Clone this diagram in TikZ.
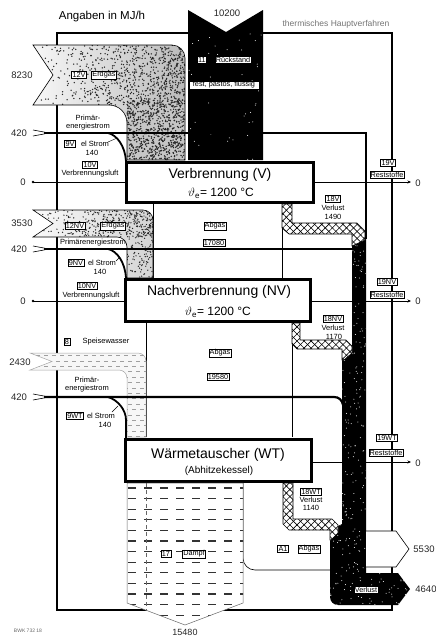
\documentclass[tikz,border=0pt]{standalone}
\usepackage{fontspec}
\setmainfont{Liberation Sans}
\usetikzlibrary{patterns.meta,arrows.meta}
\newcommand\myspeck[8]{%
  \foreach \i in {1,...,#5}{%
    \pgfmathsetmacro\xx{#1+#3*#8(rnd)}%
    \pgfmathsetmacro\yy{#2+#4*rnd}%
    \fill[#7] (\xx,\yy) circle (#6);}}
\begin{document}
\begin{tikzpicture}[x=1pt,y=-1pt,
  lbl/.style={draw,line width=0.4pt,fill=white,inner sep=0.9pt,font=\fontsize{7.3}{8}\selectfont},
  txt/.style={inner sep=0pt,font=\fontsize{7.5}{8.5}\selectfont},
  num/.style={inner sep=0pt,font=\fontsize{9.5}{10}\selectfont,text=black!85},
  proc/.style={draw,line width=3pt,fill=white,inner sep=0pt},
  big/.style={inner sep=0pt,font=\fontsize{14}{16}\selectfont},
  mid/.style={inner sep=0pt,font=\fontsize{12}{14}\selectfont},
  elec/.style={line width=2.2pt},
  thinl/.style={line width=0.6pt},
  hatchband/.style={draw,line width=0.6pt,fill=white,
     postaction={pattern={Lines[angle=45,distance=5pt,line width=0.6pt]}},
     postaction={pattern={Lines[angle=-45,distance=5pt,line width=0.6pt]}}},
  outarr/.style={thinl,-{Stealth[length=3.5pt,width=3pt]}}
]
\useasboundingbox (0,0) rectangle (436,638);
\pgfmathsetseed{4711}

% titles
\node[font=\fontsize{11.5}{13}\selectfont,inner sep=0pt] (title) at (102,17) {Angaben in MJ/h};
\node[font=\fontsize{8.5}{10}\selectfont,text=black!55,inner sep=0pt] (thv) at (336,24) {thermisches Hauptverfahren};

% outline of the main process
\draw[line width=2pt] (57,33) rectangle (392,610);

% air inputs and residue outputs
\fill (33,182) circle (1.3); \draw[thinl] (33,182) -- (125,182);
\fill (33,301) circle (1.3); \draw[thinl] (33,301) -- (124,301);
\draw[outarr] (314,182) -- (411,182);
\draw[outarr] (312,301) -- (411,301);
\draw[outarr] (313,462) -- (411,462);

% flue gas boundaries
\draw[thinl] (153,204) -- (153,278);
\draw[thinl] (282,204) -- (282,278);
\draw[thinl] (146,323) -- (146,437);
\draw[thinl] (292,323) -- (292,437);
\draw[thinl] (243,483) -- (243,558) arc[start angle=180,end angle=90,radius=12] -- (330,570);

% 12V natural gas
\def\bandV{(33,45) -- (172,45) arc[start angle=-90,end angle=0,radius=13] -- (185,160) -- (127,160) -- (127,123) arc[start angle=0,end angle=-90,radius=18] -- (33,105) -- (53,75) -- cycle}
\begin{scope}
  \clip \bandV;
  \shade[left color=gray!5,right color=gray!55] (30,40) rectangle (190,165);
  \fill[gray!45] (127,100) rectangle (186,161);
  \myspeck{33}{45}{152}{60}{800}{0.75}{black!85}{sqrt}
  \myspeck{127}{100}{58}{60}{650}{0.8}{black!85}{}
\end{scope}
\draw[thinl] \bandV;

% 12NV natural gas
\def\bandNV{(33,210) -- (143,210) arc[start angle=-90,end angle=0,radius=10] -- (153,278) -- (127,278) -- (127,247) arc[start angle=0,end angle=-90,radius=10] -- (33,237) -- (53,223.5) -- cycle}
\begin{scope}
  \clip \bandNV;
  \shade[left color=gray!3,right color=gray!35] (30,205) rectangle (155,280);
  \myspeck{33}{210}{120}{27}{380}{0.7}{black!85}{sqrt}
  \myspeck{127}{235}{26}{43}{90}{0.7}{black!85}{}
\end{scope}
\draw[thinl] \bandNV;

% 8 feed water
\def\bandSW{(30,353) -- (138,353) arc[start angle=-90,end angle=0,radius=8] -- (146,437) -- (127,437) -- (127,378) arc[start angle=0,end angle=-90,radius=8] -- (30,370) -- (52,361.5) -- cycle}
\begin{scope}
  \clip \bandSW;
  \fill[gray!6] (25,350) rectangle (150,440);
  \foreach \k in {0,...,15}{%
    \pgfmathsetmacro\yy{355.5+5.4*\k}%
    \pgfmathsetmacro\ph{mod(\k,2)*4}%
    \draw[line width=0.55pt,gray!75,dash pattern=on 4pt off 4pt,dash phase=\ph pt] (28,\yy) -- (150,\yy);}
\end{scope}
\draw[line width=0.5pt,gray!70] \bandSW;

% 11 residue column
\def\colR{(188,10) -- (226,32) -- (263,10) -- (263,160) -- (188,160) -- cycle}
\fill \colR;
\begin{scope}
  \clip \colR;
  \myspeck{188}{10}{75}{150}{45}{0.5}{white}{}
\end{scope}

% loss column
\def\colL{(352,238) -- (366,238) -- (366,573) -- (398,573) -- (410,589) -- (398,605) -- (338,605) arc[start angle=90,end angle=180,radius=8] -- (330,530) -- (342,524) -- (342,356) -- (352,348) -- cycle}
\fill \colL;
\begin{scope}
  \clip \colL;
  \myspeck{330}{238}{80}{367}{750}{0.5}{white}{}
\end{scope}

% hatched losses
\path[hatchband] (282,204) -- (292,204) -- (292,223) -- (357,223) -- (365,231) -- (365,240) -- (352,246) -- (352,234) -- (289,234) -- (282,228) -- cycle;
\path[hatchband] (292,323) -- (300,323) -- (300,340) -- (346,340) -- (352,346) -- (352,353) -- (344,360) -- (342,360) -- (342,349) -- (297,349) -- (292,344) -- cycle;
\path[hatchband] (283,483) -- (293,483) -- (293,519) -- (332,519) -- (338,525) -- (338,533) -- (331,540) -- (330,540) -- (330,530) -- (289,530) -- (283,524) -- cycle;

% flue gas output arrow
\draw[thinl,fill=white] (366,531) -- (396,531) -- (409,549) -- (396,567) -- (366,567);

% electricity
\foreach \yy in {133,249,397}{%
  \draw[thinl] (33,\yy-3) -- (45,\yy-0.8);
  \draw[thinl] (33,\yy+3) -- (45,\yy+0.8);}
\draw[elec] (44,133) -- (366,133) -- (366,239);
\draw[line width=1.8pt] (108,133) .. controls (117,135) and (125,146) .. (126,161);
\draw[elec] (44,249) -- (352,249);
\draw[line width=1.8pt] (108,249) .. controls (117,251) and (125,262) .. (126,278);
\draw[elec] (44,397) -- (334,397) .. controls (339,397) and (342,400) .. (343,405);
\draw[line width=1.8pt] (108,397) .. controls (118,400) and (126,410) .. (126,420) -- (126,438);
\draw[line width=0.4pt] (108,142) -- (116,138.5);
\draw[line width=0.4pt] (116,261) -- (120,257);
\draw[line width=0.4pt] (112,412) -- (118,406);

% process boxes
\node[proc,minimum width=187pt,minimum height=40pt] (V) at (220,182.5) {};
\node[proc,minimum width=185pt,minimum height=42pt] (NV) at (218,300.5) {};
\node[proc,minimum width=186pt,minimum height=42pt] (WT) at (218.5,460.5) {};
\node[big] (Vt) at (220,175) {Verbrennung (V)};
\node[mid] (Vtemp) at (221,193) {$\vartheta_{\mathrm{e}}$= 1200 °C};
\node[big] (NVt) at (219,292) {Nachverbrennung (NV)};
\node[mid] (NVtemp) at (218,312) {$\vartheta_{\mathrm{e}}$= 1200 °C};
\node[big] (WTt) at (218,455) {Wärmetauscher (WT)};
\node[inner sep=0pt,font=\fontsize{10}{12}\selectfont] (WTs) at (219,471) {(Abhitzekessel)};

% 17 steam
\def\dampf{(127,483) -- (243,483) -- (243,603) -- (185,625) -- (127,603) -- cycle}
\fill[white] \dampf;
\begin{scope}
  \clip \dampf;
  \foreach \k in {0,...,13}{%
    \pgfmathsetmacro\yy{488+10.6*\k}%
    \draw[line width=1.1pt,black!80,dash pattern=on 8pt off 8pt] (128,\yy) -- (244,\yy);}
  \draw[line width=0.5pt,black!60,dash pattern=on 4pt off 3pt] (146,483) -- (146,612);
\end{scope}
\draw[line width=0.5pt,black!60] \dampf;

% labels on the left
\node[num] (n8230) at (22,75) {8230};
\node[num] (n420a) at (19,133) {420};
\node[num] (n0a) at (23,182) {0};
\node[num] (n3530) at (22,223) {3530};
\node[num] (n420b) at (19,249) {420};
\node[num] (n0b) at (23,301) {0};
\node[num] (n2430) at (20,362) {2430};
\node[num] (n420c) at (19,397) {420};
% right
\node[num] (r0a) at (418,183) {0};
\node[num] (r0b) at (418,301) {0};
\node[num] (r0c) at (418,463) {0};
\node[num] (n5530) at (424,549) {5530};
\node[num] (n4640) at (426,589) {4640};
% top and bottom
\node[num] (n10200) at (227,13) {10200};
\node[num,font=\fontsize{9}{10}\selectfont] (n15480) at (185,632) {15480};
\node[inner sep=0pt,font=\fontsize{5}{6}\selectfont,text=black!60] (bwk) at (28,631) {BWK 732 18};

% V stage labels
\node[lbl] (l12V) at (79,75) {12V};
\node[lbl] (lEg1) at (104,75) {Erdgas};
\node[txt] (pe1a) at (88,118) {Primär-};
\node[txt] (pe1b) at (88,127) {energiestrom};
\node[lbl] (l9V) at (70,144) {9V};
\node[txt] (es1) at (95,144) {el Strom};
\node[txt] (es1n) at (92,153) {140};
\node[lbl] (l10V) at (90,165) {10V};
\node[txt] (vl1) at (90,174) {Verbrennungsluft};
\node[lbl] (l11) at (202,60) {11};
\node[lbl] (lRs) at (233,60) {Rückstand};
\node[lbl,minimum width=70pt] (lfest) at (224,85) {fest, pastös, flüssig};
\node[lbl] (lAb1) at (215,226) {Abgas};
\node[lbl] (l17080) at (214,243) {17080};
\node[lbl] (l18V) at (333,199) {18V};
\node[txt] (vv1) at (333,208) {Verlust};
\node[txt] (vv1n) at (333,217) {1490};
\node[lbl] (l19V) at (388,163) {19V};
\node[lbl] (lRst1) at (387,175) {Reststoffe};

% NV stage labels
\node[lbl] (l12NV) at (75,226) {12NV};
\node[lbl] (lEg2) at (113,226) {Erdgas};
\node[txt] (pe2) at (93,243) {Primärenergiestrom};
\node[lbl] (l9NV) at (76,263) {9NV};
\node[txt] (es2) at (102,263) {el Strom};
\node[txt] (es2n) at (100,272) {140};
\node[lbl] (l10NV) at (87,286) {10NV};
\node[txt] (vl2) at (91,296) {Verbrennungsluft};
\node[lbl] (l19NV) at (387,282) {19NV};
\node[lbl] (lRst2) at (387,295) {Reststoffe};
\node[lbl] (l18NV) at (333,319) {18NV};
\node[txt] (vv2) at (333,328) {Verlust};
\node[txt] (vv2n) at (334,337) {1170};
\node[lbl] (lAb2) at (220,353) {Abgas};
\node[lbl] (l19580) at (218,377) {19580};

% WT stage labels
\node[lbl] (l8) at (67,342) {8};
\node[txt] (sw) at (106,342) {Speisewasser};
\node[txt] (pe3a) at (87,380) {Primär-};
\node[txt] (pe3b) at (87,389) {energiestrom};
\node[lbl] (l9WT) at (75,416) {9WT};
\node[txt] (es3) at (101,416) {el Strom};
\node[txt] (es3n) at (105,425) {140};
\node[lbl] (l19WT) at (387,438) {19WT};
\node[lbl] (lRst3) at (386,453) {Reststoffe};
\node[lbl] (l18WT) at (311,492) {18WT};
\node[txt] (vv3) at (311,500) {Verlust};
\node[txt] (vv3n) at (311,508) {1140};
\node[lbl] (l17) at (166,554) {17};
\node[lbl] (lDampf) at (194,554) {Dampf};
\node[lbl] (lA1) at (283,549) {A1};
\node[lbl] (lAb3) at (309,549) {Abgas};
\node[lbl] (lVerl) at (366,590) {Verlust};
\end{tikzpicture}
\end{document}
